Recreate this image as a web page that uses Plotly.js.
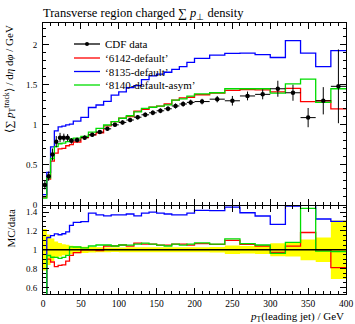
<!DOCTYPE html>
<html>
<head>
<meta charset="utf-8">
<script src="https://cdn.plot.ly/plotly-3.0.1.min.js"></script>
<style>html,body{margin:0;padding:0;background:#fff}#plot{width:355px;height:324px}</style>
</head>
<body>
<div id="plot"></div>
<script>
// Bin edges of pT(leading jet) / GeV
const binEdges = [0,5,10,15,20,25,30,35,40,50,60,70,80,90,100,110,120,130,140,150,160,170,180,190,200,220,240,260,280,300,320,340,360,380,400];

// CDF data
const dataY = [0.25,0.36,0.63,0.79,0.84,0.84,0.84,0.80,0.81,0.84,
               0.875,0.91,0.95,1.00,1.03,1.06,1.095,1.125,1.15,1.175,
               1.20,1.235,1.26,1.28,1.29,1.32,1.30,1.36,1.38,1.45,
               1.40,1.09,1.30,1.48];
const dataErr = [0.055,0.058,0.075,0.07,0.06,0.05,0.045,0.035,0.03,0.028,
                 0.025,0.024,0.024,0.025,0.026,0.027,0.028,0.029,0.03,0.03,
                 0.031,0.032,0.033,0.034,0.035,0.04,0.06,0.055,0.062,0.1,
                 0.1,0.12,0.17,0.46];

// MC predictions
const mc6142 = [0.10,0.324,0.548,0.648,0.70,0.706,0.739,0.752,0.786,0.84,
                0.875,0.901,0.988,1.04,1.082,1.102,1.172,1.193,1.219,1.234,
                1.26,1.309,1.336,1.344,1.375,1.395,1.43,1.44,1.435,1.41,
                1.455,1.29,1.30,1.20];
const mc8135 = [0.13,0.407,0.725,0.924,0.974,0.983,1.0,1.008,1.045,1.092,
                1.216,1.247,1.292,1.37,1.411,1.463,1.489,1.564,1.61,1.633,
                1.656,1.692,1.726,1.779,1.83,1.87,1.89,1.895,1.875,1.84,
                2.05,1.895,1.725,1.925];
const mc8140 = [0.085,0.338,0.58,0.727,0.764,0.773,0.79,0.824,0.834,0.857,
                0.91,0.956,0.998,1.04,1.082,1.113,1.161,1.204,1.219,1.234,
                1.248,1.309,1.323,1.357,1.385,1.40,1.45,1.45,1.45,1.395,
                1.51,1.57,1.28,1.45];

const legendNames = ['CDF data','\u20186142-default\u2019','\u20188135-default\u2019','\u20188140-default-asym\u2019'];
const legendColors = ['#000000','#ff0000','#0000ff','#00dd00'];
const seriesColors = legendColors.slice(1);
const xTickVals = [0,50,100,150,200,250,300,350,400];

const centers = dataY.map((_, i) => (binEdges[i] + binEdges[i+1]) / 2);
const halfW = dataY.map((_, i) => (binEdges[i+1] - binEdges[i]) / 2);
function stepY(vals){ return vals.concat([vals[vals.length-1]]); }

const SERIF = 'Liberation Serif, Times New Roman, serif';
const traces = [];

// ratio band (data uncertainty)
const relErr = dataY.map((v, i) => dataErr[i] / v);
traces.push({x: binEdges, y: stepY(relErr.map(r => 1 - r)), xaxis:'x2', yaxis:'y2', mode:'lines',
  line:{shape:'hv', width:0, color:'#ffff00'}, showlegend:false, hoverinfo:'skip'});
traces.push({x: binEdges, y: stepY(relErr.map(r => 1 + r)), xaxis:'x2', yaxis:'y2', mode:'lines',
  line:{shape:'hv', width:0, color:'#ffff00'}, fill:'tonexty', fillcolor:'#ffff00', showlegend:false, hoverinfo:'skip'});

// MC ratio lines
[mc6142, mc8135, mc8140].forEach((mc, k) => {
  traces.push({x: binEdges, y: stepY(mc.map((v, i) => v / dataY[i])), xaxis:'x2', yaxis:'y2', mode:'lines',
    line:{shape:'hv', width:1.3, color: seriesColors[k]}, showlegend:false});
});
// data/data reference line
traces.push({x: binEdges, y: stepY(dataY.map(v => v / v)), xaxis:'x2', yaxis:'y2', mode:'lines',
  line:{shape:'hv', width:1.5, color:'#000'}, showlegend:false});

// MC main lines
[mc6142, mc8135, mc8140].forEach((mc, k) => {
  traces.push({x: binEdges, y: stepY(mc), mode:'lines', name: legendNames[k+1], showlegend:false,
    line:{shape:'hv', width:1.3, color: seriesColors[k]}});
});

// data points
traces.push({x: centers, y: dataY, mode:'markers', name:'CDF data', showlegend:false,
  marker:{color:'#000', size:4.5},
  error_x:{type:'data', array: halfW, width:0, thickness:1, color:'#000'},
  error_y:{type:'data', array: dataErr, width:0, thickness:1, color:'#000'}});

// manual legend (compact rows like the reference)
const plotL = 43, plotW = 303, plotT = 23, plotH = 271;
const px2x = p => (p - plotL) / plotW;
const py2y = p => (plotT + plotH - p) / plotH;
const legRowsPy = [44, 58, 71.5, 85];
const shapes = [];
const annotations = [];
legendNames.forEach((name, i) => {
  const yy = py2y(legRowsPy[i]);
  shapes.push({type:'line', xref:'paper', yref:'paper', x0:px2x(74), x1:px2x(100), y0:yy, y1:yy,
    line:{color:legendColors[i], width:1.3}});
  annotations.push({text:name, xref:'paper', yref:'paper', x:px2x(103), y:yy, xanchor:'left', yanchor:'middle',
    showarrow:false, font:{family:SERIF, size:11, color:'#000'}});
});
shapes.push({type:'circle', xref:'paper', yref:'paper', fillcolor:'#000', line:{color:'#000', width:0},
  x0:px2x(85), x1:px2x(89), y0:py2y(46), y1:py2y(42)});

annotations.push(
  {text:'<i>p</i><sub>T</sub>(leading jet) / GeV', xref:'paper', yref:'paper', x:1, y:py2y(316.5),
    xanchor:'right', yanchor:'middle', showarrow:false, font:{family:SERIF, size:11, color:'#000'}},
  {text:'\u27e8\u2211 <i>p</i><sub>T</sub><sup>track</sup>\u27e9 / d<i>\u03b7</i> d<i>\u03c6</i> / GeV', xref:'paper', yref:'paper',
    x:px2x(10), y:py2y(24), xanchor:'center', yanchor:'top', textangle:-90, showarrow:false,
    font:{family:SERIF, size:11, color:'#000'}},
  {text:'MC/data', xref:'paper', yref:'paper', x:px2x(10), y:py2y(207), xanchor:'center', yanchor:'top',
    textangle:-90, showarrow:false, font:{family:SERIF, size:11, color:'#000'}}
);

const axBase = {ticks:'inside', mirror:'allticks', showline:true, linecolor:'#000', linewidth:1,
  tickcolor:'#000', tickwidth:1, ticklen:6, showgrid:false, zeroline:false,
  tickfont:{family:SERIF, size:9.5, color:'#000'}, ticklabelstandoff:3};
const yTickFont = {family:SERIF, size:9, color:'#000'};

const layout = {
  width:355, height:324,
  margin:{l:43, r:9, t:23, b:30},
  paper_bgcolor:'#fff', plot_bgcolor:'rgba(0,0,0,0)',
  showlegend:false,
  title:{text:'Transverse region charged \u2211 <i>p</i><sub>\u22a5</sub> density',
    font:{family:SERIF, size:12.5, color:'#000'}, xref:'paper', x:0, xanchor:'left', yref:'container', y:0.96, yanchor:'middle'},
  xaxis: Object.assign({}, axBase, {domain:[0,1], range:[0,400], anchor:'y', showticklabels:false,
    tickvals: xTickVals, minor:{ticks:'inside', ticklen:3, dtick:10, tick0:0, tickcolor:'#000'}}),
  yaxis: Object.assign({}, axBase, {domain:[0.3284,1], range:[0,2.27], anchor:'x', dtick:0.5, tick0:0, tickfont:yTickFont,
    minor:{ticks:'inside', ticklen:3, dtick:0.1, tick0:0, tickcolor:'#000'}}),
  xaxis2: Object.assign({}, axBase, {domain:[0,1], range:[0,400], anchor:'y2', tickvals: xTickVals, ticklabelstandoff:1,
    minor:{ticks:'inside', ticklen:3, dtick:10, tick0:0, tickcolor:'#000'}}),
  yaxis2: Object.assign({}, axBase, {domain:[0,0.3247], range:[0.53,1.465], anchor:'x2', dtick:0.2, tick0:0, tickfont:yTickFont,
    minor:{ticks:'inside', ticklen:3, dtick:0.05, tick0:0, tickcolor:'#000'}}),
  shapes: shapes,
  annotations: annotations
};

Plotly.newPlot('plot', traces, layout, {staticPlot:true, displayModeBar:false});
</script>
</body>
</html>
